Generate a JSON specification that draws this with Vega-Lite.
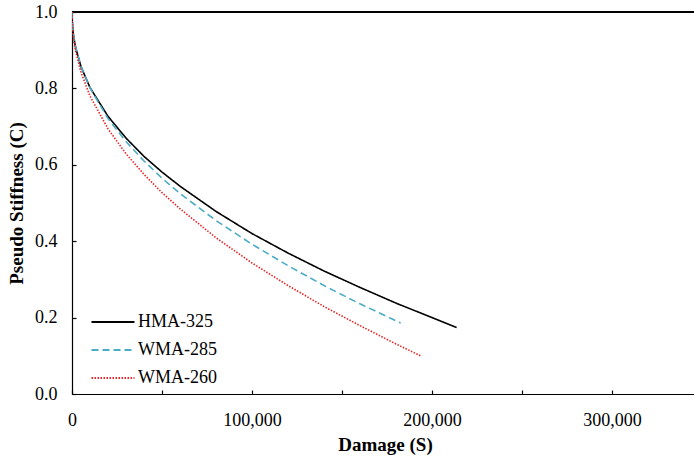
{
  "$schema": "https://vega.github.io/schema/vega-lite/v6.json",
  "width": 622,
  "height": 382,
  "autosize": {"type": "none"},
  "padding": {"left": 72, "top": 12, "right": 0, "bottom": 64},
  "background": "white",
  "config": {
    "view": {"stroke": null},
    "font": "Liberation Serif",
    "axis": {"grid": false, "domainColor": "black", "tickColor": "black", "labelColor": "black", "titleColor": "black", "labelFont": "Liberation Serif", "titleFont": "Liberation Serif", "labelFontSize": 18, "titleFontSize": 19, "titleFontWeight": "bold", "domainWidth": 1.2, "tickWidth": 1.2}
  },
  "data": {"values": [
    {"S": 0, "C": 1.0, "mix": "HMA-325"},
    {"S": 100, "C": 0.977, "mix": "HMA-325"},
    {"S": 500, "C": 0.951, "mix": "HMA-325"},
    {"S": 1000, "C": 0.933, "mix": "HMA-325"},
    {"S": 2000, "C": 0.907, "mix": "HMA-325"},
    {"S": 5000, "C": 0.857, "mix": "HMA-325"},
    {"S": 10000, "C": 0.802, "mix": "HMA-325"},
    {"S": 20000, "C": 0.727, "mix": "HMA-325"},
    {"S": 30000, "C": 0.670, "mix": "HMA-325"},
    {"S": 40000, "C": 0.622, "mix": "HMA-325"},
    {"S": 50000, "C": 0.581, "mix": "HMA-325"},
    {"S": 60000, "C": 0.544, "mix": "HMA-325"},
    {"S": 80000, "C": 0.478, "mix": "HMA-325"},
    {"S": 100000, "C": 0.420, "mix": "HMA-325"},
    {"S": 120000, "C": 0.369, "mix": "HMA-325"},
    {"S": 140000, "C": 0.322, "mix": "HMA-325"},
    {"S": 160000, "C": 0.279, "mix": "HMA-325"},
    {"S": 180000, "C": 0.238, "mix": "HMA-325"},
    {"S": 200000, "C": 0.200, "mix": "HMA-325"},
    {"S": 213700, "C": 0.174, "mix": "HMA-325"},
    {"S": 0, "C": 1.0, "mix": "WMA-285"},
    {"S": 100, "C": 0.979, "mix": "WMA-285"},
    {"S": 500, "C": 0.953, "mix": "WMA-285"},
    {"S": 1000, "C": 0.935, "mix": "WMA-285"},
    {"S": 2000, "C": 0.909, "mix": "WMA-285"},
    {"S": 5000, "C": 0.858, "mix": "WMA-285"},
    {"S": 10000, "C": 0.801, "mix": "WMA-285"},
    {"S": 20000, "C": 0.721, "mix": "WMA-285"},
    {"S": 30000, "C": 0.661, "mix": "WMA-285"},
    {"S": 40000, "C": 0.610, "mix": "WMA-285"},
    {"S": 50000, "C": 0.565, "mix": "WMA-285"},
    {"S": 60000, "C": 0.525, "mix": "WMA-285"},
    {"S": 80000, "C": 0.454, "mix": "WMA-285"},
    {"S": 100000, "C": 0.392, "mix": "WMA-285"},
    {"S": 120000, "C": 0.336, "mix": "WMA-285"},
    {"S": 140000, "C": 0.284, "mix": "WMA-285"},
    {"S": 160000, "C": 0.236, "mix": "WMA-285"},
    {"S": 182600, "C": 0.186, "mix": "WMA-285"},
    {"S": 0, "C": 1.0, "mix": "WMA-260"},
    {"S": 100, "C": 0.975, "mix": "WMA-260"},
    {"S": 500, "C": 0.947, "mix": "WMA-260"},
    {"S": 1000, "C": 0.926, "mix": "WMA-260"},
    {"S": 2000, "C": 0.898, "mix": "WMA-260"},
    {"S": 5000, "C": 0.842, "mix": "WMA-260"},
    {"S": 10000, "C": 0.780, "mix": "WMA-260"},
    {"S": 20000, "C": 0.694, "mix": "WMA-260"},
    {"S": 30000, "C": 0.629, "mix": "WMA-260"},
    {"S": 40000, "C": 0.575, "mix": "WMA-260"},
    {"S": 50000, "C": 0.527, "mix": "WMA-260"},
    {"S": 60000, "C": 0.485, "mix": "WMA-260"},
    {"S": 80000, "C": 0.409, "mix": "WMA-260"},
    {"S": 100000, "C": 0.343, "mix": "WMA-260"},
    {"S": 120000, "C": 0.284, "mix": "WMA-260"},
    {"S": 140000, "C": 0.229, "mix": "WMA-260"},
    {"S": 160000, "C": 0.179, "mix": "WMA-260"},
    {"S": 180000, "C": 0.131, "mix": "WMA-260"},
    {"S": 194300, "C": 0.0985, "mix": "WMA-260"}
  ]},
  "layer": [
    {
      "mark": {"type": "rule", "color": "black", "strokeWidth": 1.2},
      "encoding": {"y": {"datum": 1}}
    },
    {
      "mark": {"type": "line", "strokeWidth": 1.6, "clip": true},
      "encoding": {
        "x": {"field": "S", "type": "quantitative", "scale": {"domain": [0, 345600], "nice": false, "zero": false},
          "axis": {"title": "Damage (S)", "values": [0, 50000, 100000, 150000, 200000, 250000, 300000], "labelExpr": "round(datum.value/50000) % 2 == 0 ? format(datum.value, ',') : ''", "tickSize": -4, "labelPadding": 21, "titleX": 313, "titleAnchor": null, "titleAlign": "center", "titlePadding": 6, "labelFlush": false}},
        "y": {"field": "C", "type": "quantitative", "scale": {"domain": [0, 1], "nice": false},
          "axis": {"title": "Pseudo Stiffness (C)", "values": [0, 0.1, 0.2, 0.3, 0.4, 0.5, 0.6, 0.7, 0.8, 0.9, 1.0], "labelExpr": "round(datum.value*10) % 2 == 0 ? format(datum.value, '.1f') : ''", "tickSize": -4, "labelPadding": 19, "titlePadding": 8, "labelFlush": false}},
        "color": {"field": "mix", "type": "nominal", "scale": {"domain": ["HMA-325", "WMA-285", "WMA-260"], "range": ["#000000", "#4BACC6", "#E8262A"]},
          "legend": {"title": null, "orient": "none", "legendX": 29, "legendY": 298, "symbolType": "M-2,0L2,0", "symbolSize": 462, "symbolStrokeWidth": 1.8, "labelFontSize": 18, "labelFont": "Liberation Serif", "labelColor": "black", "rowPadding": 7, "labelOffset": 13}},
        "strokeDash": {"field": "mix", "type": "nominal", "scale": {"domain": ["HMA-325", "WMA-285", "WMA-260"], "range": [[1, 0], [7, 4], [1.5, 1.5]]}, "legend": null}
      }
    }
  ]
}
